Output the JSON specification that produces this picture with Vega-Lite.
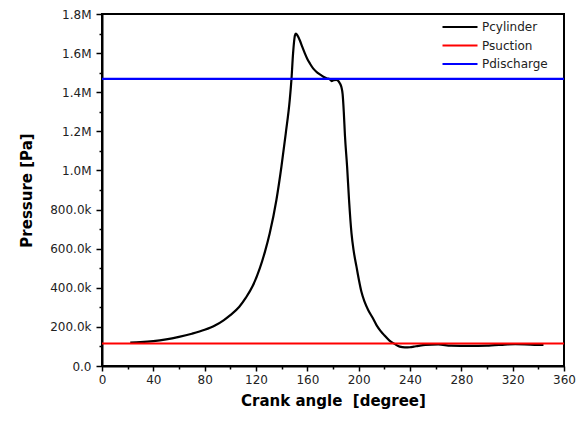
{
  "$schema": "https://vega.github.io/schema/vega-lite/v6.json",
  "width": 462,
  "height": 352,
  "autosize": "none",
  "padding": {"left": 102, "top": 14, "right": 22, "bottom": 55},
  "background": "white",
  "config": {
    "view": {"stroke": "black", "strokeWidth": 2},
    "axis": {
      "domainColor": "black", "domainWidth": 2, "tickColor": "black", "tickWidth": 1.5,
      "grid": false, "labelFont": "DejaVu Sans", "labelFontSize": 12, "labelColor": "#222",
      "titleFont": "DejaVu Sans", "titleFontSize": 15, "titleFontWeight": "bold", "titleColor": "black",
      "labelOverlap": false, "labelFlush": false
    },
    "legend": {"labelFont": "DejaVu Sans", "labelFontSize": 12, "labelColor": "#222"}
  },
  "data": {"values": [
    {"angle": 22, "p": 120000, "series": "Pcylinder"},
    {"angle": 30, "p": 122000, "series": "Pcylinder"},
    {"angle": 40, "p": 127000, "series": "Pcylinder"},
    {"angle": 50, "p": 136000, "series": "Pcylinder"},
    {"angle": 60, "p": 149000, "series": "Pcylinder"},
    {"angle": 70, "p": 165000, "series": "Pcylinder"},
    {"angle": 80, "p": 185000, "series": "Pcylinder"},
    {"angle": 88, "p": 207000, "series": "Pcylinder"},
    {"angle": 95, "p": 235000, "series": "Pcylinder"},
    {"angle": 100, "p": 260000, "series": "Pcylinder"},
    {"angle": 107, "p": 303000, "series": "Pcylinder"},
    {"angle": 112, "p": 348000, "series": "Pcylinder"},
    {"angle": 117.5, "p": 410000, "series": "Pcylinder"},
    {"angle": 123, "p": 500000, "series": "Pcylinder"},
    {"angle": 127, "p": 585000, "series": "Pcylinder"},
    {"angle": 130.7, "p": 679000, "series": "Pcylinder"},
    {"angle": 135.9, "p": 849000, "series": "Pcylinder"},
    {"angle": 139.8, "p": 1019000, "series": "Pcylinder"},
    {"angle": 143.2, "p": 1190000, "series": "Pcylinder"},
    {"angle": 146.3, "p": 1361000, "series": "Pcylinder"},
    {"angle": 147.6, "p": 1463000, "series": "Pcylinder"},
    {"angle": 148.9, "p": 1600000, "series": "Pcylinder"},
    {"angle": 150.3, "p": 1690000, "series": "Pcylinder"},
    {"angle": 151, "p": 1700000, "series": "Pcylinder"},
    {"angle": 152.5, "p": 1688000, "series": "Pcylinder"},
    {"angle": 154.1, "p": 1666000, "series": "Pcylinder"},
    {"angle": 156, "p": 1633000, "series": "Pcylinder"},
    {"angle": 158, "p": 1600000, "series": "Pcylinder"},
    {"angle": 160, "p": 1570000, "series": "Pcylinder"},
    {"angle": 162, "p": 1547000, "series": "Pcylinder"},
    {"angle": 164.5, "p": 1522000, "series": "Pcylinder"},
    {"angle": 167, "p": 1505000, "series": "Pcylinder"},
    {"angle": 170, "p": 1490000, "series": "Pcylinder"},
    {"angle": 172.5, "p": 1479000, "series": "Pcylinder"},
    {"angle": 175, "p": 1471000, "series": "Pcylinder"},
    {"angle": 177.5, "p": 1466000, "series": "Pcylinder"},
    {"angle": 179, "p": 1457000, "series": "Pcylinder"},
    {"angle": 180.5, "p": 1461000, "series": "Pcylinder"},
    {"angle": 182.7, "p": 1463000, "series": "Pcylinder"},
    {"angle": 185.3, "p": 1446000, "series": "Pcylinder"},
    {"angle": 186.6, "p": 1425000, "series": "Pcylinder"},
    {"angle": 187.5, "p": 1390000, "series": "Pcylinder"},
    {"angle": 188.4, "p": 1300000, "series": "Pcylinder"},
    {"angle": 189.3, "p": 1180000, "series": "Pcylinder"},
    {"angle": 191, "p": 1019000, "series": "Pcylinder"},
    {"angle": 192.5, "p": 849000, "series": "Pcylinder"},
    {"angle": 194.4, "p": 679000, "series": "Pcylinder"},
    {"angle": 196.2, "p": 585000, "series": "Pcylinder"},
    {"angle": 198.3, "p": 508000, "series": "Pcylinder"},
    {"angle": 200.2, "p": 440000, "series": "Pcylinder"},
    {"angle": 202.2, "p": 378000, "series": "Pcylinder"},
    {"angle": 204.5, "p": 330000, "series": "Pcylinder"},
    {"angle": 207.5, "p": 285000, "series": "Pcylinder"},
    {"angle": 211, "p": 245000, "series": "Pcylinder"},
    {"angle": 214, "p": 208000, "series": "Pcylinder"},
    {"angle": 217, "p": 180000, "series": "Pcylinder"},
    {"angle": 220, "p": 157000, "series": "Pcylinder"},
    {"angle": 224, "p": 130000, "series": "Pcylinder"},
    {"angle": 228, "p": 113000, "series": "Pcylinder"},
    {"angle": 232, "p": 99000, "series": "Pcylinder"},
    {"angle": 236, "p": 95000, "series": "Pcylinder"},
    {"angle": 240, "p": 96000, "series": "Pcylinder"},
    {"angle": 243, "p": 99000, "series": "Pcylinder"},
    {"angle": 246.5, "p": 103000, "series": "Pcylinder"},
    {"angle": 252, "p": 108000, "series": "Pcylinder"},
    {"angle": 262, "p": 110000, "series": "Pcylinder"},
    {"angle": 272, "p": 104000, "series": "Pcylinder"},
    {"angle": 286, "p": 103000, "series": "Pcylinder"},
    {"angle": 300, "p": 104000, "series": "Pcylinder"},
    {"angle": 306, "p": 107000, "series": "Pcylinder"},
    {"angle": 312, "p": 108000, "series": "Pcylinder"},
    {"angle": 322, "p": 112000, "series": "Pcylinder"},
    {"angle": 337, "p": 108000, "series": "Pcylinder"},
    {"angle": 344, "p": 108000, "series": "Pcylinder"},
    {"angle": 0, "p": 115000, "series": "Psuction"},
    {"angle": 360, "p": 115000, "series": "Psuction"},
    {"angle": 0, "p": 1468000, "series": "Pdischarge"},
    {"angle": 360, "p": 1468000, "series": "Pdischarge"}
  ]},
  "mark": {"type": "line", "strokeWidth": 2.2, "interpolate": "monotone"},
  "encoding": {
    "x": {
      "field": "angle", "type": "quantitative",
      "scale": {"domain": [0, 360], "nice": false, "zero": false},
      "axis": {
        "title": "Crank angle\u00a0 [degree]",
        "values": [0, 20, 40, 60, 80, 100, 120, 140, 160, 180, 200, 220, 240, 260, 280, 300, 320, 340, 360],
        "labelExpr": "datum.value % 40 == 0 ? datum.label : ''",
        "tickSize": {"condition": {"test": "datum.value % 40 != 0", "value": 3}, "value": 5},
        "labelPadding": 3,
        "titlePadding": 8
      }
    },
    "y": {
      "field": "p", "type": "quantitative",
      "scale": {"domain": [0, 1800000], "nice": false},
      "axis": {
        "title": "Pressure [Pa]",
        "values": [0, 100000, 200000, 300000, 400000, 500000, 600000, 700000, 800000, 900000, 1000000, 1100000, 1200000, 1300000, 1400000, 1500000, 1600000, 1700000, 1800000],
        "labelExpr": "datum.value % 200000 != 0 ? '' : (datum.value == 0 ? '0.0' : (datum.value >= 1000000 ? format(datum.value / 1000000, '.1f') + 'M' : format(datum.value / 1000, '.1f') + 'k'))",
        "tickSize": {"condition": {"test": "datum.value % 200000 != 0", "value": 3}, "value": 6},
        "labelPadding": 5,
        "titlePadding": 15
      }
    },
    "color": {
      "field": "series", "type": "nominal",
      "scale": {"domain": ["Pcylinder", "Psuction", "Pdischarge"], "range": ["black", "#ff0000", "#0000ff"]},
      "legend": {
        "title": null, "orient": "none", "legendX": 352, "legendY": 7,
        "symbolType": "M-3.5,0H3.5", "symbolSize": 100, "symbolStrokeWidth": 2,
        "labelOffset": 16, "rowPadding": 6.5, "padding": 0
      }
    }
  }
}
